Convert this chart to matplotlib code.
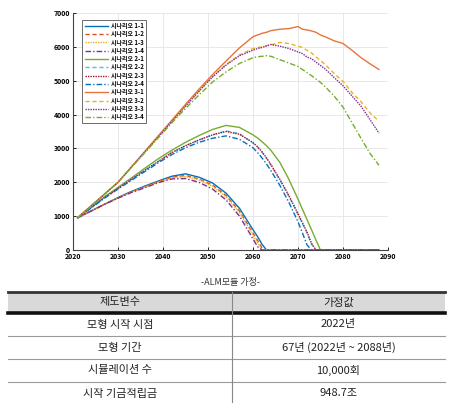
import matplotlib.pyplot as plt
from matplotlib.patches import Rectangle
from matplotlib.lines import Line2D

plt.rcParams['font.family'] = ['Noto Sans CJK KR', 'DejaVu Sans']

years = [2021, 2024, 2027, 2030, 2033, 2036, 2039, 2042, 2045, 2048, 2051, 2054, 2057,
         2060, 2061, 2062, 2063, 2064, 2066, 2068, 2070, 2071, 2072, 2073, 2074, 2075,
         2076, 2078, 2080, 2082, 2084, 2086, 2088]

labels = ['시나리오 1-1', '시나리오 1-2', '시나리오 1-3', '시나리오 1-4',
          '시나리오 2-1', '시나리오 2-2', '시나리오 2-3', '시나리오 2-4',
          '시나리오 3-1', '시나리오 3-2', '시나리오 3-3', '시나리오 3-4']

s1_1 = [950, 1150, 1350, 1550, 1730, 1890, 2040, 2180, 2250, 2150, 1980, 1680, 1230,
        600, 400, 170, 0, 0, 0, 0, 0, 0, 0, 0, 0, 0, 0, 0, 0, 0, 0, 0, 0]
s1_2 = [950, 1150, 1350, 1540, 1720, 1870, 2020, 2150, 2200, 2100, 1920, 1610, 1150,
        500, 290, 60, 0, 0, 0, 0, 0, 0, 0, 0, 0, 0, 0, 0, 0, 0, 0, 0, 0]
s1_3 = [950, 1150, 1350, 1540, 1710, 1860, 2010, 2130, 2170, 2070, 1880, 1570, 1100,
        440, 220, 0, 0, 0, 0, 0, 0, 0, 0, 0, 0, 0, 0, 0, 0, 0, 0, 0, 0]
s1_4 = [950, 1150, 1350, 1530, 1700, 1840, 1990, 2100, 2110, 2000, 1800, 1480, 1000,
        330, 100, 0, 0, 0, 0, 0, 0, 0, 0, 0, 0, 0, 0, 0, 0, 0, 0, 0, 0]

s2_1 = [950, 1270, 1570, 1850, 2130, 2420, 2700, 2950, 3180, 3380, 3560, 3680, 3620,
        3400, 3310, 3200, 3080, 2940, 2580, 2080, 1500, 1200, 900, 600, 290, 0, 0, 0, 0, 0, 0, 0, 0]
s2_2 = [950, 1250, 1550, 1820, 2090, 2360, 2620, 2880, 3080, 3250, 3400, 3520, 3430,
        3160, 3040, 2890, 2710, 2500, 2060, 1580, 1050, 780, 500, 170, 0, 0, 0, 0, 0, 0, 0, 0, 0]
s2_3 = [950, 1250, 1550, 1820, 2090, 2360, 2620, 2880, 3080, 3250, 3400, 3500, 3420,
        3170, 3050, 2900, 2720, 2520, 2080, 1600, 1070, 800, 530, 200, 0, 0, 0, 0, 0, 0, 0, 0, 0]
s2_4 = [950, 1240, 1530, 1800, 2060, 2320, 2580, 2820, 3020, 3180, 3300, 3370, 3270,
        3020, 2880, 2720, 2540, 2340, 1900, 1400, 830, 500, 150, 0, 0, 0, 0, 0, 0, 0, 0, 0, 0]

s3_1 = [950, 1300, 1650, 2000, 2460, 2920, 3380, 3840, 4300, 4750, 5180, 5580, 5970,
        6300, 6350, 6400, 6430, 6480, 6520, 6540, 6600, 6520, 6500, 6470, 6430, 6350,
        6300, 6180, 6100, 5900, 5680, 5500, 5330]
s3_2 = [950, 1300, 1650, 2000, 2450, 2900, 3350, 3800, 4250, 4690, 5120, 5480, 5760,
        5950, 5980, 6000, 6030, 6060, 6130, 6100, 6020, 5980, 5900, 5820, 5700, 5600,
        5480, 5220, 4980, 4650, 4380, 4050, 3800]
s3_3 = [950, 1300, 1650, 2000, 2450, 2900, 3350, 3800, 4250, 4690, 5110, 5460, 5740,
        5900, 5950, 5980, 6030, 6070, 6020, 5950, 5850, 5800, 5700, 5650, 5550, 5450,
        5350, 5100, 4850, 4550, 4250, 3850, 3450]
s3_4 = [950, 1300, 1650, 2000, 2440, 2880, 3320, 3760, 4180, 4580, 4960, 5260, 5510,
        5680, 5710, 5720, 5740, 5720, 5620, 5520, 5420, 5330, 5240, 5150, 5050, 4950,
        4830, 4550, 4220, 3760, 3300, 2850, 2500]

series = [s1_1, s1_2, s1_3, s1_4, s2_1, s2_2, s2_3, s2_4, s3_1, s3_2, s3_3, s3_4]

caption = '-ALM모듈 가정-'
table_header = ['제도변수', '가정값']
table_left = ['모형 시작 시점', '모형 기간', '시뮬레이션 수', '시작 기금적립금']
table_right = ['2022년', '67년 (2022년 ~ 2088년)', '10,000회', '948.7조']

colors = ['#0072BD', '#D95319', '#EDB120', '#7E2F8E',
          '#77AC30', '#4DBEEE', '#A2142F', '#0072BD',
          '#E8743B', '#EDB120', '#7E2F8E', '#77AC30']
styles = ['-', (0, (3, 2)), (0, (1, 0.8)), (0, (4, 1.5, 1, 1.5))] * 3

W, H = 452, 403
fig = plt.figure(figsize=(W / 100, H / 100), dpi=100)
ax = fig.add_axes([73 / W, 1 - 250 / H, 315 / W, 237 / H])

for vals, lab, c, ls in zip(series, labels, colors, styles):
    ax.plot(years, vals, color=c, linestyle=ls, linewidth=1.0, label=lab)

ax.set_xlim(2020, 2090)
ax.set_ylim(0, 7000)
ax.set_xticks(range(2020, 2091, 10))
ax.set_yticks(range(0, 7001, 1000))
ax.grid(True, color='#e4e4e4', linewidth=0.6)
ax.tick_params(direction='in', length=2.5, labelsize=5, width=0.6, pad=2)
for t in ax.get_xticklabels() + ax.get_yticklabels():
    t.set_fontweight('bold')
for s in ['top', 'right']:
    ax.spines[s].set_visible(False)
for s in ['left', 'bottom']:
    ax.spines[s].set_color('#444444')
    ax.spines[s].set_linewidth(0.8)

leg = ax.legend(loc='upper left', bbox_to_anchor=(0.02, 0.985), fontsize=4.3,
                handlelength=3.9, labelspacing=0.22, borderpad=0.4,
                handletextpad=0.5, fancybox=False, edgecolor='#555555', framealpha=1)
leg.get_frame().set_linewidth(0.6)
for t in leg.get_texts():
    t.set_fontweight('bold')


def px(x, y):
    return x / W, 1 - y / H


fig.text(*px(230, 283), caption, ha='center', va='center', fontsize=6.5, color='#333333')

# table
x0, xm, x1 = 8, 232, 445
rows_y = [292, 313, 336, 359, 382, 405]
fig.patches.append(Rectangle(px(x0, rows_y[1]), (x1 - x0) / W, (rows_y[1] - rows_y[0]) / H,
                             transform=fig.transFigure, facecolor='#d9d9d9', edgecolor='none'))
fig.lines.append(Line2D([x0 / W, x1 / W], [1 - rows_y[0] / H] * 2, transform=fig.transFigure,
                        color='#333333', linewidth=2.0))
fig.lines.append(Line2D([x0 / W, x1 / W], [1 - rows_y[1] / H] * 2, transform=fig.transFigure,
                        color='#111111', linewidth=2.6))
for y in rows_y[2:5]:
    fig.lines.append(Line2D([x0 / W, x1 / W], [1 - y / H] * 2, transform=fig.transFigure,
                            color='#9a9a9a', linewidth=0.8))
fig.lines.append(Line2D([xm / W, xm / W], [1 - rows_y[0] / H, 0], transform=fig.transFigure,
                        color='#888888', linewidth=0.8))

cl, cr = (x0 + xm) / 2, (xm + x1) / 2
hy = (rows_y[0] + rows_y[1]) / 2
fig.text(*px(cl, hy), table_header[0], ha='center', va='center', fontsize=8, color='#222222')
fig.text(*px(cr, hy), table_header[1], ha='center', va='center', fontsize=8, color='#222222')
for i, (lt, rt) in enumerate(zip(table_left, table_right)):
    yy = (rows_y[i + 1] + rows_y[i + 2]) / 2
    fig.text(*px(cl, yy), lt, ha='center', va='center', fontsize=8, color='#222222')
    fig.text(*px(cr, yy), rt, ha='center', va='center', fontsize=8, color='#222222')

fig.savefig('out.png', dpi=100)
